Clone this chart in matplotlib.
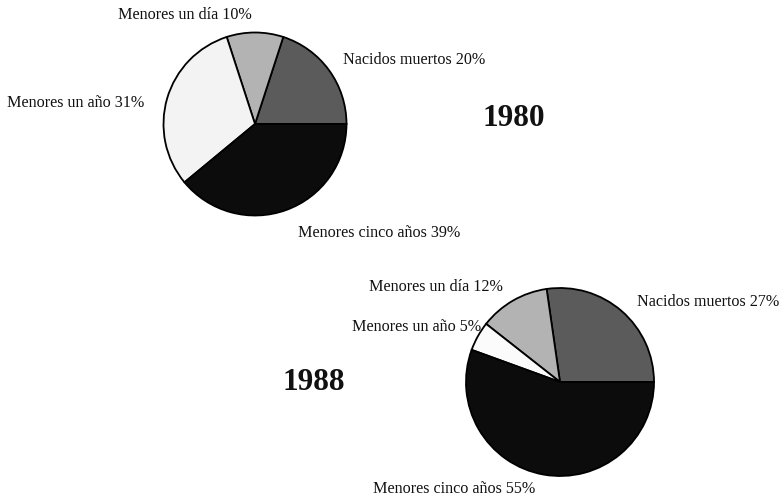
import matplotlib.pyplot as plt

# categories and values
categories = ["Nacidos muertos", "Menores un día", "Menores un año", "Menores cinco años"]
values_1980 = [20, 10, 31, 39]
values_1988 = [27, 12, 5, 55]
years = ["1980", "1988"]

colors_1980 = ["#5b5b5b", "#b3b3b3", "#f3f3f3", "#0c0c0c"]
colors_1988 = ["#5b5b5b", "#b3b3b3", "#fbfbfb", "#0c0c0c"]

W, H = 783, 499
fig = plt.figure(figsize=(W / 100, H / 100), dpi=100)
ax = fig.add_axes([0, 0, 1, 1])
ax.set_xlim(0, W)
ax.set_ylim(0, H)
ax.set_aspect("equal")
ax.axis("off")

font = ["Liberation Serif", "DejaVu Serif"]

# pie 1980 (pixel coords, y measured from the top)
ax.pie(values_1980, colors=colors_1980, startangle=0, counterclock=True,
       center=(255, H - 124), radius=91.5,
       wedgeprops=dict(edgecolor="black", linewidth=1.3))

# pie 1988
ax.pie(values_1988, colors=colors_1988, startangle=0, counterclock=True,
       center=(560, H - 382), radius=94,
       wedgeprops=dict(edgecolor="black", linewidth=1.3))

ax.set_xlim(0, W)
ax.set_ylim(0, H)

# label positions (centre of each text, pixels from the top)
pos_1980 = [(414, 60), (185, 15), (76, 103), (379, 233)]
pos_1988 = [(708, 302), (436, 287), (417, 327), (454, 489)]

for vals, pos in [(values_1980, pos_1980), (values_1988, pos_1988)]:
    for cat, v, (x, y) in zip(categories, vals, pos):
        ax.text(x, H - y, f"{cat} {v}%", ha="center", va="center",
                fontsize=11.6, family=font, color="#111111")

ax.text(514, H - 118, years[0], ha="center", va="center",
        fontsize=22.5, fontweight="bold", family=font, color="#111111")
ax.text(314, H - 383, years[1], ha="center", va="center",
        fontsize=22.5, fontweight="bold", family=font, color="#111111")

fig.savefig("out.png", dpi=100)
